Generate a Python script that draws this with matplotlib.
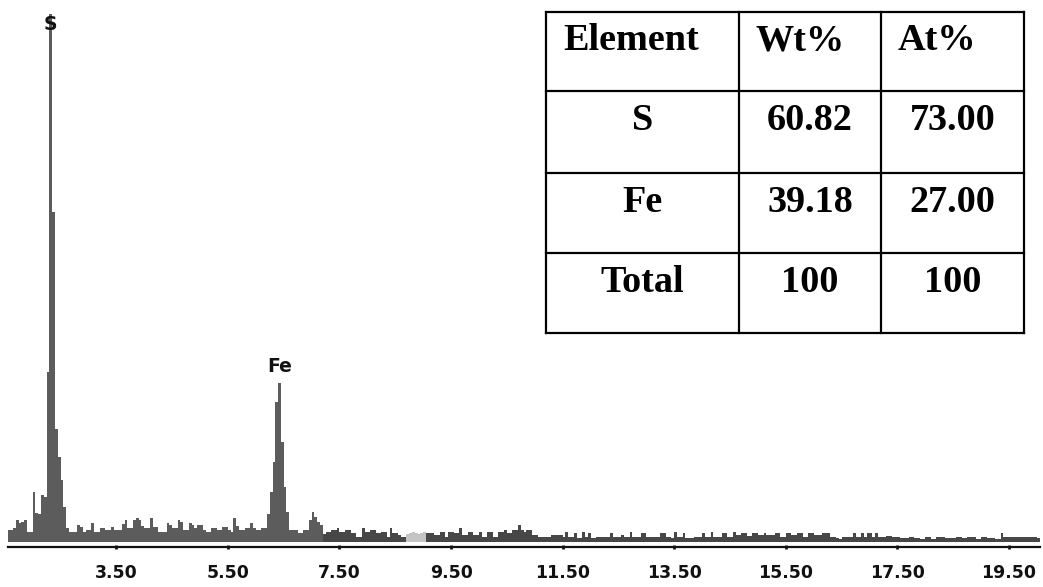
import numpy as np
import matplotlib
matplotlib.use("Agg")
import matplotlib.pyplot as plt

W, H = 1043, 587

# EDS spectrum: counts in 50 eV channels, first channel starts at 1.55 keV
e_start = 1.55
e_step = 0.05
counts = [
    12, 12, 14, 22, 19, 20, 22, 10, 10, 50,
    29, 28, 47, 45, 170, 528, 330, 113, 85, 62,
    35, 14, 10, 10, 10, 17, 15, 10, 12, 12,
    19, 10, 10, 14, 14, 12, 12, 15, 12, 12,
    12, 18, 22, 14, 14, 22, 24, 22, 16, 14,
    14, 24, 15, 15, 10, 10, 10, 19, 17, 14,
    14, 22, 20, 12, 12, 19, 17, 14, 17, 17,
    12, 10, 10, 14, 14, 12, 12, 15, 15, 12,
    10, 24, 16, 12, 12, 14, 14, 19, 14, 12,
    12, 14, 14, 28, 50, 80, 140, 159, 100, 55,
    30, 12, 12, 12, 9, 9, 12, 12, 22, 30,
    25, 20, 17, 8, 10, 10, 12, 12, 14, 10,
    10, 12, 12, 9, 9, 5, 5, 14, 10, 10,
    12, 12, 9, 9, 10, 10, 5, 14, 9, 9,
    7, 5, 5, 8, 9, 10, 9, 8, 9, 10,
    9, 9, 9, 7, 7, 10, 10, 5, 10, 10,
    9, 9, 14, 7, 7, 10, 10, 7, 7, 10,
    5, 5, 10, 10, 5, 5, 10, 10, 12, 9,
    9, 12, 12, 17, 12, 10, 12, 12, 7, 7,
    5, 5, 5, 5, 5, 7, 7, 7, 7, 5,
    10, 5, 5, 9, 4, 4, 10, 5, 9, 4,
    4, 5, 5, 5, 5, 5, 9, 5, 5, 5,
    7, 5, 5, 10, 5, 5, 5, 9, 9, 5,
    5, 5, 5, 5, 9, 9, 5, 5, 4, 10,
    5, 5, 9, 4, 4, 4, 5, 5, 5, 9,
    5, 5, 10, 5, 5, 5, 9, 9, 5, 5,
    10, 7, 7, 9, 9, 6, 6, 9, 9, 7,
    7, 9, 7, 7, 7, 9, 9, 5, 5, 9,
    9, 7, 7, 9, 9, 5, 5, 9, 9, 7,
    7, 7, 9, 9, 9, 5, 5, 4, 3, 5,
    5, 5, 5, 9, 5, 5, 9, 5, 9, 9,
    5, 9, 5, 5, 5, 6, 6, 5, 5, 5,
    4, 4, 4, 5, 5, 4, 4, 3, 3, 5,
    5, 3, 3, 5, 5, 5, 4, 4, 4, 4,
    5, 5, 4, 4, 5, 5, 5, 3, 3, 5,
    5, 4, 4, 4, 3, 3, 9, 5, 5, 5,
    5, 5, 5, 5, 5, 5, 5, 5, 5, 4,
]

# Element lines marked on the spectrum (keV)
peak_names = ["S", "Fe"]
peak_lines = [2.31, 6.40]

tick_values = [3.5, 5.5, 7.5, 9.5, 11.5, 13.5, 15.5, 17.5, 19.5]
tick_labels = ["3.50", "5.50", "7.50", "9.50", "11.50", "13.50", "15.50", "17.50", "19.50"]

# Quantification table
headers = ["Element", "Wt%", "At%"]
elements = ["S", "Fe", "Total"]
wt_pct = ["60.82", "39.18", "100"]
at_pct = ["73.00", "27.00", "100"]

counts = np.asarray(counts, dtype=float)
edges = e_start + e_step * np.arange(len(counts) + 1)

fig = plt.figure(figsize=(W / 100, H / 100), dpi=100)
fig.patch.set_facecolor("white")

ax = fig.add_axes([7.5 / W, 40 / H, 1032.2 / W, 542 / H])
ax.set_xlim(edges[0], edges[-1])
ax.set_ylim(-5, 537)

# low-energy part (grey), faint patch and high-energy tail (darker)
tail = int(round((7.20 - e_start) / e_step))
pale0 = int(round((8.70 - e_start) / e_step))
pale1 = int(round((9.05 - e_start) / e_step))
ax.stairs(counts[:tail + 1], edges[:tail + 2], fill=True, color="#5c5c5c", lw=0)
ax.stairs(counts[tail:pale0], edges[tail:pale0 + 1], fill=True, color="#474747", lw=0)
ax.stairs(counts[pale0:pale1], edges[pale0:pale1 + 1], fill=True, color="#c4c4c4", lw=0)
ax.stairs(counts[pale1:], edges[pale1:], fill=True, color="#474747", lw=0)

centers = 0.5 * (edges[:-1] + edges[1:])
label_offsets = [-11, 17]
for name, line, dy in zip(peak_names, peak_lines, label_offsets):
    win = np.abs(centers - line) < 0.15
    idx = np.flatnonzero(win)[np.argmax(counts[win])]
    ax.annotate(name, (centers[idx], counts[idx]), xytext=(0, dy),
                textcoords="offset pixels", ha="center", va="center",
                fontsize=13.5, fontweight="bold", family="DejaVu Sans", color="#111111")

for side in ("left", "right", "top"):
    ax.spines[side].set_visible(False)
ax.spines["bottom"].set_linewidth(1.6)
ax.spines["bottom"].set_color("#111111")
ax.set_yticks([])
ax.set_xticks(tick_values, tick_labels)
ax.tick_params(axis="x", direction="inout", length=3, width=2, pad=11,
               labelsize=12.5, colors="#111111")
for lab in ax.get_xticklabels():
    lab.set_fontweight("bold")
    lab.set_family("DejaVu Sans")

# quantification table drawn in its own pixel-scaled axes
tw, th = 478, 321
tax = fig.add_axes([546 / W, 1 - 333 / H, tw / W, th / H])
tax.set_xlim(0, tw)
tax.set_ylim(th, 0)
tax.axis("off")
col_edges = [0, 193, 335, tw]
row_edges = [0, 79, 161, 241, th]
for x in col_edges:
    tax.plot([x, x], [0, th], color="black", lw=1.6, clip_on=False, solid_capstyle="projecting")
for y in row_edges:
    tax.plot([0, tw], [y, y], color="black", lw=1.6, clip_on=False, solid_capstyle="projecting")

font = dict(family="Liberation Serif", fontweight="bold", fontsize=27.5, color="black")
for j, text in enumerate(headers):
    tax.text(col_edges[j] + 17, row_edges[0] + 38.5, text, ha="left", va="baseline", **font)
rows = list(zip(elements, wt_pct, at_pct))
for i, row in enumerate(rows):
    for j, text in enumerate(row):
        xc = 0.5 * (col_edges[j] + col_edges[j + 1])
        tax.text(xc, row_edges[i + 1] + 38.5, text, ha="center", va="baseline", **font)

fig.savefig("out.png", dpi=100)
